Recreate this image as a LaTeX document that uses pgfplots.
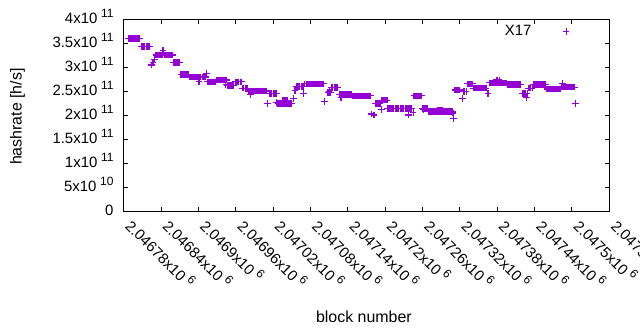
\documentclass[border=0pt]{standalone}
\usepackage{fontspec}
\setmainfont{Liberation Sans}
\usepackage{pgfplots}
\pgfplotsset{compat=1.18}
\definecolor{dv}{RGB}{148,0,211}
\newcommand{\sci}[2]{#1x10\hspace{3.7bp}\raisebox{6bp}{\fontsize{12}{12}\selectfont #2}}
\pgfplotsset{mylegend/.style={legend image code/.code={\path (0bp,0bp) (40bp,0bp); \draw[##1, mark repeat=2, mark phase=2] plot coordinates {(0bp,0bp) (34bp,0bp) (40bp,0bp)};}}}
\pgfplotstableread[row sep=\\]{
x y\\
8 361\\ 10 361\\ 12 361\\ 14 361\\ 16 361\\ 18 361\\ 20 361\\ 22 361\\ 24 361\\ 26 361\\
28 344\\ 30 344\\ 32 344\\ 34 344\\ 36 344\\ 38 344\\ 40 344\\ 42 344\\
45 305\\ 47 310\\ 49 317\\
52 326\\ 54 326\\ 56 326\\ 58 326\\ 60 326\\ 62 326\\
63 336\\
66 326\\ 68 326\\ 70 326\\ 72 326\\ 74 326\\ 76 326\\ 78 326\\
80 311\\ 82 311\\ 84 311\\ 86 311\\ 88 311\\ 90 311\\
92 286\\ 94 286\\ 96 286\\ 98 286\\ 100 286\\ 102 286\\ 104 286\\
106 280\\ 108 280\\ 110 280\\ 112 280\\ 114 280\\ 116 280\\ 118 280\\ 120 280\\ 122 280\\ 124 280\\ 126 280\\ 128 280\\ 130 280\\ 132 280\\
133 288\\ 121 270\\
135 270\\ 137 270\\ 139 270\\ 141 270\\ 143 270\\ 145 270\\ 147 270\\
149 274\\ 151 274\\ 153 274\\ 155 274\\ 157 274\\ 159 274\\ 161 274\\ 163 274\\ 165 274\\
164 264\\
167 262\\ 169 262\\ 171 262\\ 173 262\\ 175 262\\ 177 262\\
179 270\\ 181 270\\ 183 270\\ 185 270\\ 187 270\\ 189 270\\
191 257\\ 193 257\\ 195 257\\ 197 257\\ 199 257\\
200 251\\ 202 251\\ 204 251\\ 206 251\\ 208 251\\ 210 251\\ 212 251\\ 214 251\\ 216 251\\ 218 251\\ 220 251\\ 222 251\\ 224 251\\ 226 251\\ 228 251\\ 230 251\\
204 243\\ 231 225\\
234 246\\ 236 246\\ 238 246\\ 240 246\\ 242 246\\ 244 246\\ 246 246\\
245 227\\
248 225\\ 250 225\\ 252 225\\ 254 225\\ 256 225\\ 258 225\\ 260 225\\ 262 225\\ 264 225\\ 266 225\\ 268 225\\ 270 225\\
255 231\\ 257 231\\ 259 231\\ 261 231\\ 263 231\\
273 236\\ 275 252\\ 289 246\\
277 260\\ 279 260\\ 281 260\\ 283 260\\ 285 260\\ 287 260\\ 289 260\\
291 266\\ 293 266\\ 295 266\\ 297 266\\ 299 266\\ 301 266\\ 303 266\\ 305 266\\ 307 266\\ 309 266\\ 311 266\\ 313 266\\ 315 266\\ 317 266\\ 319 266\\ 321 266\\
323 229\\ 330 250\\
328 248\\ 330 248\\ 332 248\\
334 258\\ 336 258\\ 338 258\\ 340 258\\ 342 258\\ 344 258\\
349 238\\
346 244\\ 348 244\\ 350 244\\ 352 244\\ 354 244\\ 356 244\\ 358 244\\ 360 244\\ 362 244\\ 364 244\\ 366 244\\
368 241\\ 370 241\\ 372 241\\ 374 241\\ 376 241\\ 378 241\\ 380 241\\ 382 241\\ 384 241\\ 386 241\\ 388 241\\ 390 241\\ 392 241\\ 394 241\\ 396 241\\
398 203\\ 402 201\\
404 225\\ 406 225\\ 408 225\\ 410 225\\ 412 225\\
414 213\\
415 232\\ 417 232\\ 419 232\\ 421 232\\ 423 232\\
424 214\\ 426 214\\ 428 214\\ 430 214\\ 432 214\\ 434 214\\ 436 214\\ 438 214\\ 440 214\\ 442 214\\ 444 214\\ 446 214\\ 448 214\\ 450 214\\ 452 214\\ 454 214\\ 456 214\\ 458 214\\ 460 214\\ 462 214\\
457 201\\ 465 206\\
466 241\\ 468 241\\ 470 241\\ 472 241\\ 474 241\\ 476 241\\ 478 241\\
481 213\\
480 215\\ 482 215\\ 484 215\\ 486 215\\ 488 215\\
490 208\\ 492 208\\ 494 208\\ 496 208\\ 498 208\\ 500 208\\ 502 208\\ 504 208\\ 506 208\\ 508 208\\ 510 208\\ 512 208\\ 514 208\\ 516 208\\ 518 208\\ 520 208\\ 522 208\\ 524 208\\ 526 208\\ 528 208\\
504 211\\ 506 211\\ 508 211\\ 510 211\\ 512 211\\
529 205\\ 530 194\\
532 253\\ 534 253\\ 536 253\\ 538 253\\ 540 253\\
544 236\\
546 250\\ 548 250\\ 550 250\\
552 266\\ 554 266\\ 556 266\\ 558 266\\ 560 266\\
562 257\\ 564 257\\ 566 257\\ 568 257\\ 570 257\\ 572 257\\ 574 257\\ 576 257\\ 578 257\\ 580 257\\ 582 257\\
585 246\\
588 268\\ 590 268\\ 592 268\\ 594 268\\ 596 268\\ 598 268\\ 600 268\\ 602 268\\ 604 268\\ 606 268\\ 608 268\\ 610 268\\ 612 268\\ 614 268\\
599 274\\ 601 274\\ 603 274\\
616 264\\ 618 264\\ 620 264\\ 622 264\\ 624 264\\ 626 264\\ 628 264\\ 630 264\\ 632 264\\ 634 264\\ 636 264\\ 638 264\\
640 246\\ 642 246\\ 644 246\\ 646 246\\ 648 246\\
647 238\\
650 257\\ 652 257\\ 654 257\\ 656 257\\
658 264\\ 660 264\\ 662 264\\ 664 264\\ 666 264\\ 668 264\\ 670 264\\ 672 264\\ 674 264\\ 676 264\\ 678 264\\
680 255\\ 682 255\\ 684 255\\ 686 255\\ 688 255\\ 690 255\\ 692 255\\ 694 255\\ 696 255\\ 698 255\\ 700 255\\ 702 255\\
704 259\\ 706 259\\ 708 259\\ 710 259\\ 712 259\\ 714 259\\ 716 259\\ 718 259\\ 720 259\\ 722 259\\ 724 259\\
705 267\\ 726 225\\
}\hashdata
\begin{document}
\begin{tikzpicture}
\useasboundingbox (0,0) rectangle (640bp,330bp);
\begin{axis}[
  scale only axis, width=485.6bp, height=192bp,
  at={(123.7bp,118.5bp)}, anchor=south west,
  xmin=0, xmax=780, ymin=0, ymax=400,
  xtick={0,60,...,780},
  xticklabels={\sci{2.04678}{6},\sci{2.04684}{6},\sci{2.0469}{6},\sci{2.04696}{6},\sci{2.04702}{6},\sci{2.04708}{6},\sci{2.04714}{6},\sci{2.0472}{6},\sci{2.04726}{6},\sci{2.04732}{6},\sci{2.04738}{6},\sci{2.04744}{6},\sci{2.0475}{6},\sci{2.04756}{6}},
  ytick={0,50,...,400},
  yticklabels={0,\sci{5}{10},\sci{1}{11},\sci{1.5}{11},\sci{2}{11},\sci{2.5}{11},\sci{3}{11},\sci{3.5}{11},\sci{4}{11}},
  tick align=inside, xtick pos=both, ytick pos=both,
  major tick length=4.5bp,
  tick style={line width=1bp, black},
  axis line style={line width=1bp},
  ticklabel style={font=\fontsize{15}{18}\selectfont},
  xticklabel style={inner sep=0pt, xshift=0.6bp, yshift=-15.5bp, rotate=-45, anchor=base west},
  yticklabel style={inner sep=0pt, anchor=base east, xshift=-10bp, yshift=-4.1bp},
  xlabel={block number},
  xlabel style={font=\fontsize{16}{19}\selectfont, at={(axis description cs:0.4946,-0.547)}, anchor=center},
  ylabel={hashrate [h/s]},
  ylabel style={font=\fontsize{16}{19}\selectfont, at={(axis description cs:-0.2187,0.494)}, anchor=center},
  legend style={draw=none, fill=none, inner sep=0pt, column sep=0pt, nodes={inner sep=0pt}, font=\fontsize{15}{18}\selectfont, at={(axis cs:721.6,375)}, anchor=east},
  legend plot pos=right, legend cell align=right,
]
\addplot[only marks, mark=+, color=dv, mark size=3.3bp, line width=1.2bp, mylegend]
  table[x=x, y=y] {\hashdata};
\addlegendentry{X17}
\end{axis}
\end{tikzpicture}
\end{document}
